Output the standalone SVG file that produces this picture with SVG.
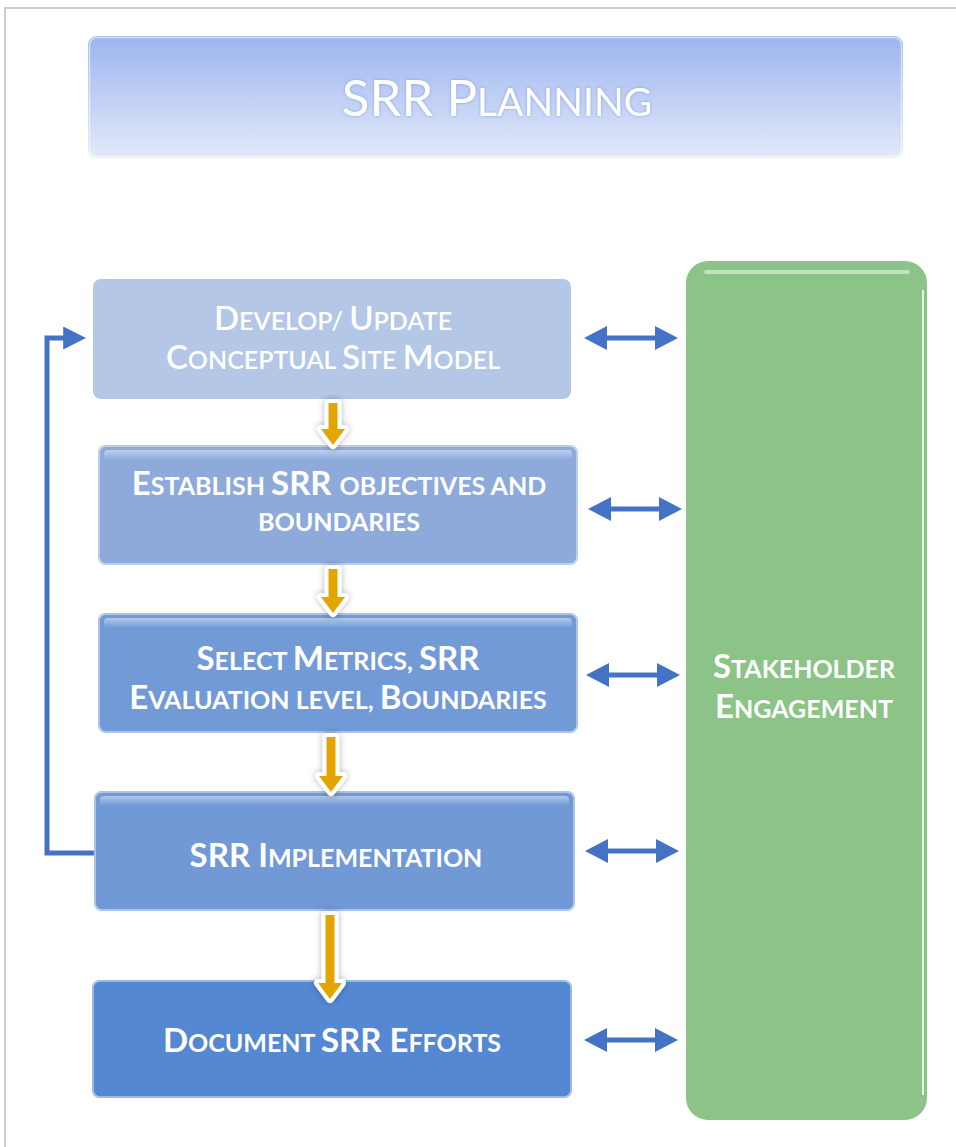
<svg xmlns="http://www.w3.org/2000/svg" width="956" height="1147" viewBox="0 0 956 1147">
  <defs>
    <linearGradient id="titleFill" x1="0" y1="0" x2="0" y2="1">
      <stop offset="0" stop-color="#9cb4ef"/>
      <stop offset="1" stop-color="#e3e9f9"/>
    </linearGradient>
    <linearGradient id="gloss" x1="0" y1="0" x2="0" y2="1">
      <stop offset="0" stop-color="#ffffff" stop-opacity="0.45"/>
      <stop offset="1" stop-color="#ffffff" stop-opacity="0"/>
    </linearGradient>
    <filter id="shadow" x="-80%" y="-20%" width="260%" height="140%">
      <feGaussianBlur in="SourceAlpha" stdDeviation="3"/>
      <feOffset dx="0" dy="0" result="b"/>
      <feFlood flood-color="#000000" flood-opacity="0.3"/>
      <feComposite in2="b" operator="in"/>
      <feMerge><feMergeNode/><feMergeNode in="SourceGraphic"/></feMerge>
    </filter>
    <filter id="titleGlow" x="-10%" y="-30%" width="120%" height="160%">
      <feGaussianBlur in="SourceAlpha" stdDeviation="1.5" result="b"/>
      <feFlood flood-color="#7f9ddc" flood-opacity="0.9"/>
      <feComposite in2="b" operator="in"/>
      <feMerge><feMergeNode/><feMergeNode in="SourceGraphic"/></feMerge>
    </filter>
    <marker id="head" viewBox="0 0 10 10" refX="6" refY="5" markerWidth="4.6" markerHeight="4.6" orient="auto-start-reverse" markerUnits="strokeWidth">
      <path d="M0,0 L10,5 L0,10 z" fill="#4472c4"/>
    </marker>
  </defs>
  <style>
    .lbl { font-family: Lato, "Open Sans", "Liberation Sans", sans-serif; fill: #ffffff; text-anchor: middle; font-weight: 700; }
    .light { font-weight: 600; }
    .c { font-size: 33px; }
    .s { font-size: 25px; }
    .box-edge { fill: none; stroke: #ffffff; stroke-opacity: 0.55; stroke-width: 1.5; }
    .link { fill: none; stroke: #4472c4; stroke-width: 5; }
    .flow { fill: #e3a600; stroke: #ffffff; stroke-width: 8; stroke-linejoin: round; paint-order: stroke fill; filter: url(#shadow); }
    .dbl { fill: #4472c4; }
  </style>

  <!-- page frame -->
  <path d="M5,1147 L5,8 L956,8" fill="none" stroke="#cccccc" stroke-width="2"/>

  <!-- title -->
  <g id="title">
    <rect x="88" y="36" width="815" height="122" rx="9" fill="url(#titleFill)"/>
    <rect x="89.5" y="37.5" width="812" height="119" rx="8" class="box-edge" stroke-opacity="0.8"/>
    <text class="lbl" style="font-weight:400" x="497" y="116" filter="url(#titleGlow)"><tspan style="font-size:51px">SRR P</tspan><tspan style="font-size:39px">LANNING</tspan></text>
  </g>

  <!-- stakeholder column -->
  <g id="stakeholder">
    <rect x="686" y="261" width="241" height="859" rx="22" fill="#8cc387"/>
    <path d="M923,290 L923,1095" stroke="#e6f5e4" stroke-width="2"/>
    <path d="M706,272 L908,272" stroke="#bfe3ba" stroke-width="4" stroke-linecap="round"/>
    <text class="lbl" x="804" y="678"><tspan class="c">S</tspan><tspan class="s">TAKEHOLDER</tspan></text>
    <text class="lbl" x="804" y="718"><tspan class="c">E</tspan><tspan class="s">NGAGEMENT</tspan></text>
  </g>

  <!-- process steps -->
  <g id="step-model">
    <rect x="93" y="279" width="478" height="120" rx="8" fill="#b4c7e7"/>
    <text class="lbl light" x="333" y="330"><tspan class="c">D</tspan><tspan class="s">EVELOP/ </tspan><tspan class="c">U</tspan><tspan class="s">PDATE</tspan></text>
    <text class="lbl light" x="333" y="369"><tspan class="c">C</tspan><tspan class="s">ONCEPTUAL </tspan><tspan class="c">S</tspan><tspan class="s">ITE </tspan><tspan class="c">M</tspan><tspan class="s">ODEL</tspan></text>
  </g>

  <g id="step-objectives">
    <rect x="98" y="445" width="480" height="120" rx="8" fill="#8eaadb"/>
    <rect x="99" y="446" width="478" height="118" rx="7" class="box-edge"/>
    <rect x="104" y="450" width="468" height="10" rx="4" fill="url(#gloss)"/>
    <text class="lbl" x="339" y="495"><tspan class="c">E</tspan><tspan class="s">STABLISH </tspan><tspan class="c">SRR </tspan><tspan class="s">OBJECTIVES AND</tspan></text>
    <text class="lbl" x="339" y="531"><tspan class="s">BOUNDARIES</tspan></text>
  </g>

  <g id="step-metrics">
    <rect x="98" y="613" width="480" height="120" rx="8" fill="#729ad7"/>
    <rect x="99" y="614" width="478" height="118" rx="7" class="box-edge"/>
    <rect x="104" y="618" width="468" height="10" rx="4" fill="url(#gloss)"/>
    <text class="lbl" x="338" y="670"><tspan class="c">S</tspan><tspan class="s">ELECT </tspan><tspan class="c">M</tspan><tspan class="s">ETRICS, </tspan><tspan class="c">SRR</tspan></text>
    <text class="lbl" x="338" y="709"><tspan class="c">E</tspan><tspan class="s">VALUATION LEVEL, </tspan><tspan class="c">B</tspan><tspan class="s">OUNDARIES</tspan></text>
  </g>

  <g id="step-implementation">
    <rect x="94" y="791" width="481" height="120" rx="8" fill="#7199d6"/>
    <rect x="95" y="792" width="479" height="118" rx="7" class="box-edge"/>
    <rect x="100" y="796" width="469" height="10" rx="4" fill="url(#gloss)"/>
    <text class="lbl" x="336" y="867"><tspan class="c">SRR I</tspan><tspan class="s">MPLEMENTATION</tspan></text>
  </g>

  <g id="step-document">
    <rect x="92" y="980" width="480" height="118" rx="8" fill="#5588d3"/>
    <rect x="93" y="981" width="478" height="116" rx="7" class="box-edge"/>
    <text class="lbl" x="332" y="1052"><tspan class="c">D</tspan><tspan class="s">OCUMENT </tspan><tspan class="c">SRR E</tspan><tspan class="s">FFORTS</tspan></text>
  </g>

  <!-- connectors -->
  <g id="connectors">
    <!-- sequence arrows -->
    <path class="flow" d="M328.5,403 L337.5,403 L337.5,429 L345,429 L333,445 L321,429 L328.5,429 Z"/>
    <path class="flow" d="M328.5,569 L337.5,569 L337.5,597 L345,597 L333,613 L321,597 L328.5,597 Z"/>
    <path class="flow" d="M326.5,737 L335.5,737 L335.5,776 L343,776 L331,792 L319,776 L326.5,776 Z"/>
    <path class="flow" d="M325.5,915 L334.5,915 L334.5,983 L342,983 L330,999 L318,983 L325.5,983 Z"/>

    <!-- feedback loop back to the site model -->
    <path class="link" d="M94,853 L47,853 L47,338 L77,338" marker-end="url(#head)"/>

    <!-- two-way links to stakeholder engagement -->
    <path class="dbl" d="M584,338 L607,326 L607,335.5 L655,335.5 L655,326 L678,338 L655,350 L655,340.5 L607,340.5 L607,350 Z"/>
    <path class="dbl" d="M588,509 L611,497 L611,506.5 L659,506.5 L659,497 L682,509 L659,521 L659,511.5 L611,511.5 L611,521 Z"/>
    <path class="dbl" d="M586,675 L609,663 L609,672.5 L657,672.5 L657,663 L680,675 L657,687 L657,677.5 L609,677.5 L609,687 Z"/>
    <path class="dbl" d="M585,851 L608,839 L608,848.5 L656,848.5 L656,839 L679,851 L656,863 L656,853.5 L608,853.5 L608,863 Z"/>
    <path class="dbl" d="M584,1040 L607,1028 L607,1037.5 L655,1037.5 L655,1028 L678,1040 L655,1052 L655,1042.5 L607,1042.5 L607,1052 Z"/>
  </g>
</svg>
